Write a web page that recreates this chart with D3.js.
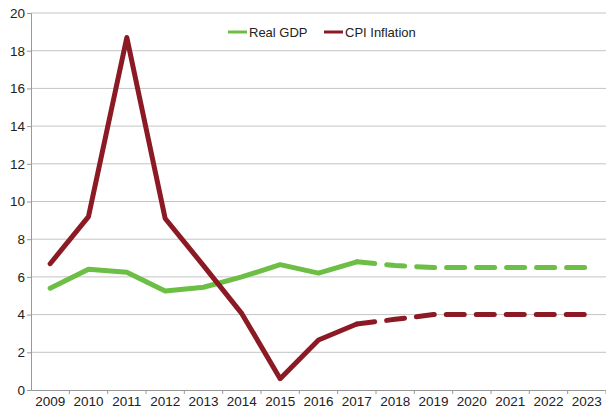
<!DOCTYPE html>
<html><head><meta charset="utf-8">
<script src="https://cdn.jsdelivr.net/npm/d3@7"></script>
<style>body{margin:0;background:#fff}svg{display:block}text{font-family:"Liberation Sans",Arial,sans-serif}</style>
</head><body><svg id="c" width="606" height="410"></svg>
<script>
const years = ["2009","2010","2011","2012","2013","2014","2015","2016","2017","2018","2019","2020","2021","2022","2023"];
const realGDP = [5.4,6.4,6.25,5.25,5.45,6.0,6.65,6.2,6.8,6.6,6.5,6.5,6.5,6.5,6.5];
const cpiInflation = [6.7,9.2,18.7,9.1,6.6,4.05,0.6,2.65,3.5,3.75,4.0,4.0,4.0,4.0,4.0];
const yTicks = [0,2,4,6,8,10,12,14,16,18,20];
const lastActual = "2017";
const seriesNames = ["Real GDP","CPI Inflation"];
const colors = ["#6cbf44","#8c1a25"];

const svg = d3.select("#c");
const m = {l:31, r:0, t:13, b:20};
const W = 606, H = 410;
const x = d3.scaleBand().domain(years).range([m.l, W-m.r]);
const y = d3.scaleLinear().domain([0,20]).range([H-m.b, m.t]);

svg.append("g").selectAll("line").data(yTicks.filter(d=>d>0)).join("line")
  .attr("x1", m.l).attr("x2", W-m.r).attr("y1", d=>y(d)).attr("y2", d=>y(d))
  .attr("stroke","#c4c4c4").attr("stroke-width",1);

const ya = svg.append("g").attr("transform",`translate(${m.l},0)`)
  .call(d3.axisLeft(y).tickValues(yTicks).tickSize(4).tickPadding(2));
ya.select(".domain").attr("stroke","#999");
ya.selectAll(".tick line").attr("stroke","#999");
ya.selectAll("text").attr("font-size","13.5px").attr("fill","#222").attr("font-family","Liberation Sans, Arial, sans-serif");

const xa = svg.append("g").attr("transform",`translate(0,${H-m.b})`)
  .call(d3.axisBottom(x).tickSize(0).tickPadding(6));
xa.select(".domain").attr("stroke","#999");
xa.selectAll("text").attr("font-size","13.5px").attr("fill","#222").attr("font-family","Liberation Sans, Arial, sans-serif");
xa.selectAll(".sep").data(years).join("line").attr("class","sep")
  .attr("x1", d=>x(d)+x.bandwidth()).attr("x2", d=>x(d)+x.bandwidth())
  .attr("y1",0).attr("y2",4).attr("stroke","#999");

const cx = d => x(d) + x.bandwidth()/2;
const li = years.indexOf(lastActual);
const line = d3.line().x(d=>cx(d[0])).y(d=>y(d[1]));
[realGDP, cpiInflation].forEach((vals,i)=>{
  const pts = years.map((yr,j)=>[yr, vals[j]]);
  svg.append("path").attr("d", line(pts.slice(0, li+1)))
    .attr("fill","none").attr("stroke",colors[i]).attr("stroke-width",5)
    .attr("stroke-linejoin","round").attr("stroke-linecap","round");
  svg.append("path").attr("d", line(pts.slice(li)))
    .attr("fill","none").attr("stroke",colors[i]).attr("stroke-width",5)
    .attr("stroke-linejoin","round").attr("stroke-linecap","round")
    .attr("stroke-dasharray","18,12");
});

const lg = svg.append("g");
const lx = [228, 324];
seriesNames.forEach((n,i)=>{
  lg.append("line").attr("x1",lx[i]).attr("x2",lx[i]+19).attr("y1",32).attr("y2",32)
    .attr("stroke",colors[i]).attr("stroke-width",3);
  lg.append("text").attr("x",lx[i]+21).attr("y",32).attr("dy","0.35em")
    .attr("font-size","13px").attr("fill","#222").text(n);
});
</script></body></html>
